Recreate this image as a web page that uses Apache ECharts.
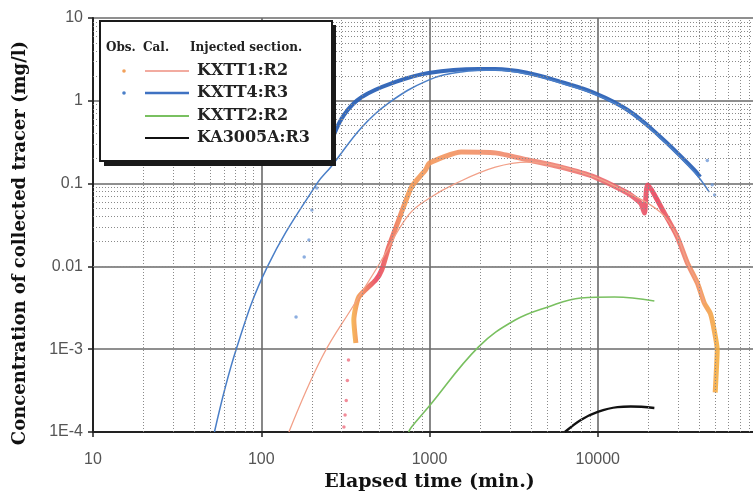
<!DOCTYPE html>
<html>
<head>
<meta charset="utf-8">
<title>Tracer breakthrough</title>
<script src="https://cdn.jsdelivr.net/npm/echarts@6/dist/echarts.min.js"></script>
<style>
  html, body { margin: 0; padding: 0; background: #fff; }
  #chart { width: 753px; height: 500px; }
</style>
</head>
<body>
<div id="chart"></div>
<script>
// y tick labels by decade exponent
var yExp = [-4, -3, -2, -1, 0, 1];
var yTickLabels = ['1E-4', '1E-3', '0.01', '0.1', '1', '10'];

// KXTT4:R3 observed (dense band)
var kxtt4ObsT = [236, 263, 310, 396, 629, 986, 1950, 2460, 3850, 6040, 9590, 15060, 23600, 37500, 40600];
var kxtt4ObsC = [0.168, 0.336, 0.674, 1.11, 1.69, 2.17, 2.42, 2.42, 2.17, 1.69, 1.24, 0.775, 0.366, 0.146, 0.12];
// KXTT4:R3 observed (sparse points)
var kxtt4DotT = [161, 180, 192, 200, 214, 44800, 47900, 49500];
var kxtt4DotC = [0.00245, 0.013, 0.0208, 0.048, 0.0885, 0.19, 0.097, 0.073];
// KXTT4:R3 calculated
var kxtt4CalT = [52.7, 71, 109, 214, 260, 396, 571, 986, 1545, 2460, 3850, 6040, 9590, 15060, 23600, 37500, 46000];
var kxtt4CalC = [1e-4, 1e-3, 0.01, 0.1, 0.16, 0.48, 0.94, 1.78, 2.23, 2.35, 2.1, 1.64, 1.2, 0.76, 0.355, 0.138, 0.079];

// KXTT1:R2 observed (dense band)
var kxtt1ObsT = [365, 355, 380, 479, 520, 572, 656, 782, 946, 1000, 1545, 2460, 3850, 6040, 9590, 15060, 17970, 18970, 19770, 24900, 29700, 34100, 39100, 43000, 46700, 49200, 51300, 50700, 49900];
var kxtt1ObsC = [1.19e-3, 2.25e-3, 4.27e-3, 6.85e-3, 9.05e-3, 0.0171, 0.0363, 0.091, 0.146, 0.177, 0.241, 0.235, 0.193, 0.158, 0.12, 0.077, 0.058, 0.044, 0.096, 0.044, 0.0227, 0.011, 6.3e-3, 3.6e-3, 2.7e-3, 1.7e-3, 9.8e-4, 5.6e-4, 3.0e-4];
// KXTT1:R2 observed (sparse points)
var kxtt1DotT = [330, 325, 320, 315, 310];
var kxtt1DotC = [7.4e-4, 4.2e-4, 2.4e-4, 1.6e-4, 1.15e-4];
// KXTT1:R2 calculated
var kxtt1CalT = [146, 230, 355, 499, 751, 1000, 1425, 2460, 3850, 6040, 9590, 15060, 23600, 29700, 34100, 39100, 43000];
var kxtt1CalC = [1e-4, 8.05e-4, 3.42e-3, 0.0104, 0.0418, 0.067, 0.10, 0.158, 0.182, 0.16, 0.12, 0.078, 0.045, 0.0227, 0.011, 0.0063, 0.0036];

// KXTT2:R2 calculated
var kxtt2CalT = [751, 782, 986, 1950, 3230, 5060, 7930, 12600, 21700];
var kxtt2CalC = [1e-4, 1.15e-4, 2.0e-4, 1.06e-3, 2.25e-3, 3.24e-3, 4.15e-3, 4.27e-3, 3.82e-3];

// KA3005A:R3 calculated
var ka3005CalT = [6380, 7930, 10000, 13100, 15700, 21700];
var ka3005CalC = [1e-4, 1.4e-4, 1.75e-4, 2.0e-4, 2.03e-4, 1.95e-4];

function pairs(t, c) {
  var out = [];
  for (var i = 0; i < t.length; i++) out.push([t[i], c[i]]);
  return out;
}

// minor grid lines at 2..9 of each decade
var minorLines = [];
[10, 100, 1000, 10000].forEach(function (d) {
  for (var m = 2; m <= 9; m++) minorLines.push({ xAxis: m * d });
});
[1e-4, 1e-3, 1e-2, 1e-1, 1].forEach(function (d) {
  for (var m = 2; m <= 9; m++) minorLines.push({ yAxis: m * d });
});

var serif = 'DejaVu Serif';
var orangeBand = new echarts.graphic.LinearGradient(0, 0, 1, 0, [
  { offset: 0, color: '#f6b24a' },
  { offset: 0.07, color: '#e8455e' },
  { offset: 0.15, color: '#f49a55' },
  { offset: 0.5, color: '#ef8572' },
  { offset: 0.78, color: '#e9596a' },
  { offset: 0.83, color: '#e8405a' },
  { offset: 0.9, color: '#ef7d6a' },
  { offset: 1, color: '#f5b040' }
]);

var myChart = echarts.init(document.getElementById('chart'));
myChart.setOption({
  animation: false,
  backgroundColor: '#fff',
  grid: { left: 93, right: -13, top: 18, bottom: 68, outerBoundsMode: 'none' },
  xAxis: {
    type: 'log',
    logBase: 10,
    min: 10,
    max: 100000,
    name: 'Elapsed time (min.)',
    nameLocation: 'middle',
    nameGap: 38,
    nameTextStyle: { fontFamily: serif, fontWeight: 'bold', fontSize: 19, color: '#111' },
    axisLine: { lineStyle: { color: '#222', width: 2 } },
    axisTick: { show: true, length: 5, lineStyle: { color: '#222', width: 1.5 } },
    axisLabel: {
      fontFamily: 'Liberation Sans', fontSize: 16, color: '#555', margin: 20,
      formatter: function (v) { return v >= 99999 ? '' : String(Math.round(v)); }
    },
    splitLine: { show: true, lineStyle: { color: '#6a6a6a', width: 1.6 } }
  },
  yAxis: {
    type: 'log',
    logBase: 10,
    min: 1e-4,
    max: 10,
    axisLine: { show: true, lineStyle: { color: '#222', width: 2 } },
    axisTick: { show: true, length: 5, lineStyle: { color: '#222', width: 1.5 } },
    axisLabel: {
      fontFamily: 'Liberation Sans', fontSize: 16, color: '#555', margin: 10,
      formatter: function (v) {
        var e = Math.round(Math.log(v) / Math.LN10);
        var k = yExp.indexOf(e);
        return k >= 0 ? yTickLabels[k] : '';
      }
    },
    splitLine: { show: true, lineStyle: { color: '#6a6a6a', width: 1.6 } }
  },
  graphic: [
    {
      type: 'text', x: 20, y: 243, rotation: Math.PI / 2,
      style: {
        text: 'Concentration of collected tracer (mg/l)', fontFamily: serif, fontWeight: 'bold',
        fontSize: 18, fill: '#111', textAlign: 'center', textVerticalAlign: 'middle'
      }
    },
    { type: 'rect', shape: { x: 104, y: 25, width: 232, height: 141 }, style: { fill: '#1a1a1a' }, z: 100 },
    { type: 'rect', shape: { x: 100, y: 21, width: 232, height: 140 }, style: { fill: '#fff', stroke: '#1a1a1a', lineWidth: 2 }, z: 101 },
    { type: 'text', x: 106, y: 48, z: 102, style: { text: 'Obs.', fontFamily: serif, fontWeight: 'bold', fontSize: 12, fill: '#222', textVerticalAlign: 'middle' } },
    { type: 'text', x: 143, y: 48, z: 102, style: { text: 'Cal.', fontFamily: serif, fontWeight: 'bold', fontSize: 12, fill: '#222', textVerticalAlign: 'middle' } },
    { type: 'text', x: 190, y: 48, z: 102, style: { text: 'Injected section.', fontFamily: serif, fontWeight: 'bold', fontSize: 12, fill: '#222', textVerticalAlign: 'middle' } },
    { type: 'circle', shape: { cx: 124, cy: 71, r: 1.8 }, z: 102, style: { fill: '#f2a05a' } },
    { type: 'circle', shape: { cx: 124, cy: 93, r: 1.8 }, z: 102, style: { fill: '#4a7fc8' } },
    { type: 'line', shape: { x1: 145, y1: 71, x2: 189, y2: 71 }, z: 102, style: { stroke: '#ee8f80', lineWidth: 1.5 } },
    { type: 'line', shape: { x1: 145, y1: 93, x2: 189, y2: 93 }, z: 102, style: { stroke: '#3f72c2', lineWidth: 2.5 } },
    { type: 'line', shape: { x1: 145, y1: 116, x2: 189, y2: 116 }, z: 102, style: { stroke: '#79c060', lineWidth: 1.8 } },
    { type: 'line', shape: { x1: 145, y1: 138, x2: 189, y2: 138 }, z: 102, style: { stroke: '#111', lineWidth: 2.2 } },
    { type: 'text', x: 197, y: 71, z: 102, style: { text: 'KXTT1:R2', fontFamily: serif, fontWeight: 'bold', fontSize: 16, fill: '#222', textVerticalAlign: 'middle' } },
    { type: 'text', x: 197, y: 93, z: 102, style: { text: 'KXTT4:R3', fontFamily: serif, fontWeight: 'bold', fontSize: 16, fill: '#222', textVerticalAlign: 'middle' } },
    { type: 'text', x: 197, y: 116, z: 102, style: { text: 'KXTT2:R2', fontFamily: serif, fontWeight: 'bold', fontSize: 16, fill: '#222', textVerticalAlign: 'middle' } },
    { type: 'text', x: 197, y: 138, z: 102, style: { text: 'KA3005A:R3', fontFamily: serif, fontWeight: 'bold', fontSize: 16, fill: '#222', textVerticalAlign: 'middle' } }
  ],
  series: [
    {
      name: 'minor grid', type: 'line', data: [], z: 1,
      markLine: {
        silent: true, symbol: 'none', label: { show: false }, animation: false,
        lineStyle: { color: '#8a8a8a', width: 1, type: [1, 2] },
        emphasis: { disabled: true },
        data: minorLines
      }
    },
    {
      name: 'KXTT2:R2 Cal.', type: 'line', data: pairs(kxtt2CalT, kxtt2CalC),
      smooth: 0.4, showSymbol: false, lineStyle: { color: '#79c060', width: 1.6 }
    },
    {
      name: 'KA3005A:R3 Cal.', type: 'line', data: pairs(ka3005CalT, ka3005CalC),
      smooth: 0.4, showSymbol: false, lineStyle: { color: '#111', width: 2.4 }
    },
    {
      name: 'KXTT1:R2 Obs.', type: 'line', data: pairs(kxtt1ObsT, kxtt1ObsC),
      smooth: 0.2, showSymbol: false, lineStyle: { color: orangeBand, width: 5, opacity: 0.9 }
    },
    {
      name: 'KXTT1:R2 Obs. sparse', type: 'scatter', data: pairs(kxtt1DotT, kxtt1DotC),
      symbolSize: 3.5, itemStyle: { color: '#ef6f80' }
    },
    {
      name: 'KXTT1:R2 Cal.', type: 'line', data: pairs(kxtt1CalT, kxtt1CalC),
      smooth: 0.4, showSymbol: false, lineStyle: { color: '#f2a088', width: 1.3 }
    },
    {
      name: 'KXTT4:R3 Obs.', type: 'line', data: pairs(kxtt4ObsT, kxtt4ObsC),
      smooth: 0.4, showSymbol: false, lineStyle: { color: '#2c62b6', width: 4, opacity: 0.95 }
    },
    {
      name: 'KXTT4:R3 Obs. sparse', type: 'scatter', data: pairs(kxtt4DotT, kxtt4DotC),
      symbolSize: 3.5, itemStyle: { color: '#6f9ad8' }
    },
    {
      name: 'KXTT4:R3 Cal.', type: 'line', data: pairs(kxtt4CalT, kxtt4CalC),
      smooth: 0.4, showSymbol: false, lineStyle: { color: '#4a7fc8', width: 1.5 }
    }
  ]
});
</script>
</body>
</html>
